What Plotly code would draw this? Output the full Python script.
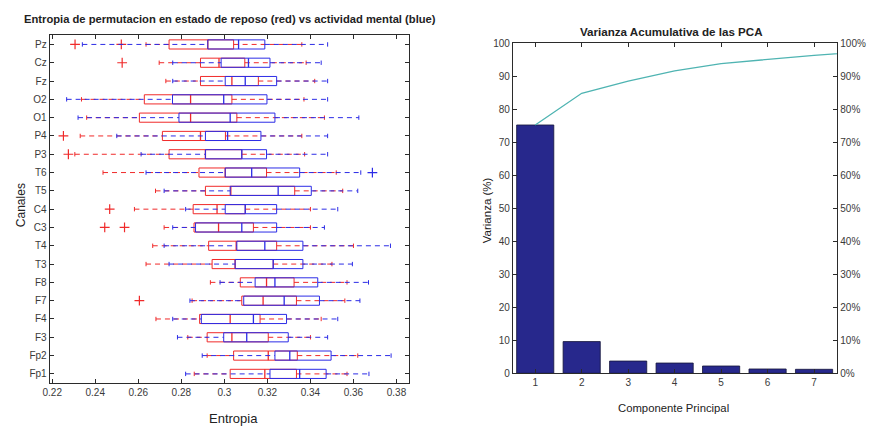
import plotly.graph_objects as go

# ---------------- Panel izquierdo: entropia de permutacion por canal ----------------
canales = ["Pz", "Cz", "Fz", "O2", "O1", "P4", "P3", "T6", "T5", "C4",
           "C3", "T4", "T3", "F8", "F7", "F4", "F3", "Fp2", "Fp1"]

# Estado de reposo (rojo): bigote inferior, Q1, mediana, Q3, bigote superior
rep_lo = [.2636, .2697, .2728, .2336, .2360, .2330, .2305, .2436, .2680, .2582,
          .2720, .2667, .2636, .2935, .2850, .2682, .2830, .2920, .2860]
rep_q1 = [.2743, .2889, .2889, .2628, .2605, .2712, .2743, .2882, .2912, .2855,
          .2859, .2927, .2943, .3074, .3081, .2885, .2920, .3043, .3027]
rep_med = [.2923, .2975, .3035, .2843, .2843, .2889, .2912, .3004, .3030, .2966,
           .2973, .3055, .3050, .3196, .3180, .3027, .3035, .3204, .3188]
rep_q3 = [.3043, .3095, .3158, .3035, .3058, .3005, .3081, .3196, .3327, .3097,
          .3135, .3243, .3227, .3324, .3335, .3166, .3204, .3339, .3335]
rep_hi = [.3360, .3380, .3420, .3370, .3465, .3360, .3373, .3520, .3550, .3400,
          .3400, .3600, .3500, .3570, .3560, .3450, .3400, .3620, .3570]
rep_out = [[.2306, .2521], [.2525], [], [], [], [.2252], [.2275], [], [], [.2467],
           [.2444, .2536], [], [], [], [.2605], [], [], [], []]

# Actividad mental (azul)
act_lo = [.2340, .2760, .2760, .2267, .2320, .2500, .2613, .2636, .2720, .2820,
          .2760, .2720, .2743, .2980, .2840, .2760, .2782, .2897, .2820]
act_q1 = [.2923, .2985, .3004, .2759, .2789, .2912, .2912, .3004, .3027, .3004,
          .2866, .3058, .3050, .3143, .3090, .2893, .2997, .3235, .3212]
act_med = [.3066, .3112, .3097, .2997, .3027, .3015, .3081, .3127, .3250, .3097,
           .3081, .3188, .3227, .3235, .3278, .3135, .3104, .3304, .3350]
act_q3 = [.3188, .3212, .3243, .3198, .3235, .3170, .3196, .3350, .3404, .3243,
          .3243, .3365, .3365, .3434, .3442, .3289, .3297, .3496, .3473]
act_hi = [.3480, .3450, .3480, .3480, .3625, .3480, .3480, .3634, .3620, .3527,
          .3465, .3772, .3595, .3670, .3630, .3527, .3480, .3775, .3672]
act_out = [[], [], [], [], [], [], [], [.3688], [], [],
           [], [], [], [], [], [], [], [], []]

x_ticks = [0.22, 0.24, 0.26, 0.28, 0.30, 0.32, 0.34, 0.36, 0.38]
x_tick_text = ["0.22", "0.24", "0.26", "0.28", "0.3", "0.32", "0.34", "0.36", "0.38"]

# ---------------- Panel derecho: varianza de las componentes principales ----------------
componentes = [1, 2, 3, 4, 5, 6, 7, 8]
varianza = [75.2, 9.6, 3.7, 3.1, 2.2, 1.3, 1.2, 1.0]

ROJO = "#f02a2a"
AZUL = "#2c2ce6"
TXT = "#3a3a3a"
EJE = "#2b2b2b"
FONT = "Liberation Sans"

n = len(canales)
pos = [n - i for i in range(n)]  # Pz arriba, Fp1 abajo
H = 0.25    # media altura de caja
HC = 0.12   # media altura del tope del bigote


def grupo(lo, q1, med, q3, hi, outs, color):
    bx, by, mx, my, wx, wy, cx, cy, ox, oy = [], [], [], [], [], [], [], [], [], []
    for k in range(n):
        y = pos[k]
        bx += [q1[k], q3[k], q3[k], q1[k], q1[k], None]
        by += [y - H, y - H, y + H, y + H, y - H, None]
        mx += [med[k], med[k], None]
        my += [y - H, y + H, None]
        wx += [lo[k], q1[k], None, q3[k], hi[k], None]
        wy += [y, y, None, y, y, None]
        cx += [lo[k], lo[k], None, hi[k], hi[k], None]
        cy += [y - HC, y + HC, None, y - HC, y + HC, None]
        for v in outs[k]:
            ox.append(v)
            oy.append(y)
    common = dict(xaxis="x", yaxis="y", hoverinfo="skip", showlegend=False)
    return [
        go.Scatter(x=wx, y=wy, mode="lines", line=dict(color=color, width=1, dash="5px,4px"), **common),
        go.Scatter(x=cx, y=cy, mode="lines", line=dict(color=color, width=1), **common),
        go.Scatter(x=bx, y=by, mode="lines", line=dict(color=color, width=1), **common),
        go.Scatter(x=mx, y=my, mode="lines", line=dict(color=color, width=1.3), **common),
        go.Scatter(x=ox, y=oy, mode="markers",
                   marker=dict(symbol="cross-thin-open", size=7, color=color,
                               line=dict(color=color, width=1.2)),
                   **common),
    ]


fig = go.Figure()
for tr in grupo(rep_lo, rep_q1, rep_med, rep_q3, rep_hi, rep_out, ROJO):
    fig.add_trace(tr)
for tr in grupo(act_lo, act_q1, act_med, act_q3, act_hi, act_out, AZUL):
    fig.add_trace(tr)

# Barras de varianza y curva acumulada
acumulada = []
s = 0.0
for v in varianza:
    s += v
    acumulada.append(s)

fig.add_trace(go.Bar(x=componentes, y=varianza, width=0.8, xaxis="x2", yaxis="y2",
                     marker=dict(color="#27288c", line=dict(color="#15153a", width=0.8)),
                     hoverinfo="skip", showlegend=False))
fig.add_trace(go.Scatter(x=componentes, y=acumulada, mode="lines", xaxis="x2", yaxis="y3",
                         line=dict(color="#4fb4b2", width=1.3), hoverinfo="skip", showlegend=False))

tickfont = dict(family=FONT, size=10, color=TXT)
axis_common = dict(showgrid=False, zeroline=False, showline=True, linecolor=EJE, linewidth=1,
                   ticks="inside", ticklen=4, tickcolor=EJE, tickfont=tickfont)

W, Hh = 873, 432
fig.update_layout(
    width=W, height=Hh,
    margin=dict(l=0, r=0, t=0, b=0),
    paper_bgcolor="white", plot_bgcolor="white",
    showlegend=False,
    xaxis=dict(domain=[43 / W, 405 / W], range=[0.2188, 0.3857], anchor="y",
               tickvals=x_ticks, ticktext=x_tick_text, mirror="ticks", **axis_common),
    yaxis=dict(domain=[1 - 387 / Hh, 1 - 31 / Hh], range=[0.5, n + 0.5], anchor="x",
               tickvals=pos, ticktext=canales, mirror="ticks", **axis_common),
    xaxis2=dict(domain=[510 / W, 837 / W], range=[0.52, 7.5], anchor="y2",
                tickvals=componentes[:7], mirror="ticks", **axis_common),
    yaxis2=dict(domain=[1 - 377 / Hh, 1 - 39 / Hh], range=[0, 100], anchor="x2",
                tickvals=list(range(0, 101, 10)), mirror=True, **axis_common),
    yaxis3=dict(overlaying="y2", side="right", anchor="x2", range=[0, 100],
                tickvals=list(range(0, 101, 10)),
                ticktext=[f"{v}%" for v in range(0, 101, 10)], **axis_common),
)

def texto(t, x, y, size, bold=False, angle=0):
    fig.add_annotation(text=f"<b>{t}</b>" if bold else t, x=x / W, y=1 - y / Hh,
                       xref="paper", yref="paper", showarrow=False, textangle=angle,
                       xanchor="center", yanchor="middle",
                       font=dict(family=FONT, size=size, color="#222222"))

texto("Entropia de permutacion en estado de reposo (red) vs actividad mental (blue)", 225, 14, 11.2, bold=True)
texto("Entropia", 228, 423, 13)
texto("Canales", 14, 205, 12, angle=-90)
texto("Varianza Acumulativa de las PCA", 670, 27, 11.6, bold=True)
texto("Componente Principal", 672, 413, 11.3)
texto("Varianza (%)", 484, 210, 11.5, angle=-90)

fig.write_html("out.html")
